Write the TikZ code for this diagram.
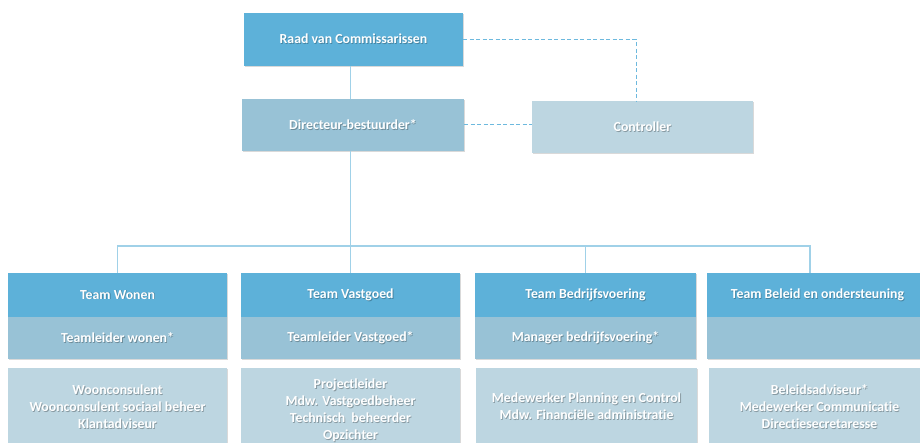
\documentclass[tikz,border=0pt]{standalone}
\usepackage{fontspec}
\setmainfont{Carlito}[Ligatures=NoCommon]
\usetikzlibrary{shadows}
\definecolor{hdr}{HTML}{5DB1D9}
\definecolor{midc}{HTML}{98C2D6}
\definecolor{lite}{HTML}{BDD6E1}
\definecolor{connc}{HTML}{A0D1E8}
\definecolor{dashc}{HTML}{6DB9DE}
\colorlet{shc}{black!30}
\newcommand\sht[1]{\makebox[0pt][l]{\hspace{0.8pt}\raisebox{-0.8pt}{\textcolor{shc}{#1}}}#1}
\tikzset{
  box/.style={rectangle, inner sep=0pt, text=white,
    font=\bfseries\fontsize{13.8}{17}\selectfont, align=center,
    drop shadow={shadow xshift=0.8pt, shadow yshift=-1.2pt, opacity=0.15, fill=black}},
  hbox/.style={box, fill=hdr, execute at begin node={\colorlet{shc}{hdr!75!black}}},
  mbox/.style={box, fill=midc, execute at begin node={\colorlet{shc}{midc!72!black}}},
  lbox/.style={box, fill=lite, execute at begin node={\colorlet{shc}{lite!72!black}}},
  cline/.style={draw=connc, line width=1.3pt},
  dline/.style={draw=dashc, line width=1pt, dash pattern=on 4pt off 2.5pt},
}
\begin{document}
\begin{tikzpicture}[x=1pt,y=-1pt]
\useasboundingbox (0,0) rectangle (920,443);
\begin{scope}
\clip (0,0) rectangle (920,443);
% top
\node[hbox, minimum width=219pt, minimum height=53pt] (raad) at (353.5,39.5) {\sht{Raad van Commissarissen}};
\node[mbox, minimum width=222pt, minimum height=52pt] (dir) at (353,125) {\sht{Directeur-bestuurder*}};
\node[lbox, minimum width=221pt, minimum height=52pt] (ctrl) at (642.5,127) {\sht{Controller}};
% teams: headers
\node[hbox, minimum width=219pt, minimum height=44pt] (wonen) at (117.5,295) {\sht{Team Wonen}};
\node[hbox, minimum width=219pt, minimum height=44pt] (vast) at (350.5,295) {\sht{Team Vastgoed}};
\node[hbox, minimum width=221pt, minimum height=44pt] (bedr) at (585.5,295) {\sht{Team Bedrijfsvoering}};
\node[hbox, minimum width=221pt, minimum height=44pt] (beleid) at (817.5,295) {\sht{Team Beleid en ondersteuning}};
% middle row
\node[mbox, minimum width=219pt, minimum height=42pt] (wonenm) at (117.5,338) {\sht{Teamleider wonen*}};
\node[mbox, minimum width=219pt, minimum height=42pt] (vastm) at (350.5,338) {\sht{Teamleider Vastgoed*}};
\node[mbox, minimum width=221pt, minimum height=42pt] (bedrm) at (585.5,338) {\sht{Manager bedrijfsvoering*}};
\node[mbox, minimum width=221pt, minimum height=42pt] (beleidm) at (817.5,338) {};
% bottom row
\node[lbox, minimum width=219pt, minimum height=78pt] (wonenb) at (117.5,407) {\sht{Woonconsulent}\\\sht{Woonconsulent sociaal beheer}\\\sht{Klantadviseur}};
\node[lbox, minimum width=219pt, minimum height=78pt] (vastb) at (350.5,407) {};
\node[text=white, font=\bfseries\fontsize{13.8}{17}\selectfont, align=center, execute at begin node={\colorlet{shc}{lite!72!black}}] (vastt) at (350.5,411) {\sht{Projectleider}\\\sht{Mdw. Vastgoedbeheer}\\\sht{Technisch\ \ beheerder}\\\sht{Opzichter}};
\node[lbox, minimum width=221pt, minimum height=78pt] (bedrb) at (586.5,407) {\sht{Medewerker Planning en Control}\\\sht{Mdw. Financiële administratie}};
\node[lbox, minimum width=221pt, minimum height=78pt] (beleidb) at (819.5,407) {\sht{Beleidsadviseur*}\\\sht{Medewerker Communicatie}\\\sht{Directiesecretaresse}};
% connectors
\coordinate (bus) at (0,246);
\coordinate (bn) at ([xshift=-7.5pt]beleid.north);
\coordinate (cn) at ([xshift=-6.5pt]ctrl.north);
\draw[cline] (raad.south -| vast.north) -- (dir.north -| vast.north);
\draw[cline] (dir.south -| vast.north) -- (vast.north);
\draw[cline] (wonen.north) -- (wonen.north |- bus) -- (bn |- bus) -- (bn);
\draw[cline] (bedr.north) -- (bedr.north |- bus);
\draw[dline] (raad.east) -- (raad.east -| cn) -- (cn);
\draw[dline] (dir.east) -- (dir.east -| ctrl.west);
\end{scope}
\end{tikzpicture}
\end{document}
